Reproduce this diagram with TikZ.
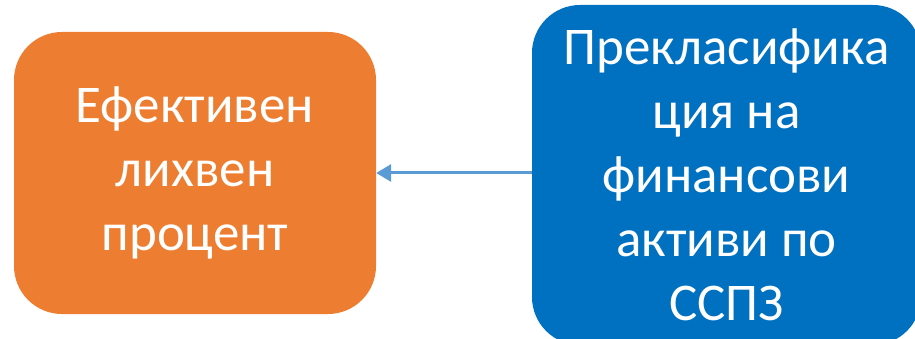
\documentclass[tikz,border=0pt]{standalone}
\usepackage{fontspec}
\setmainfont{Carlito}
\usetikzlibrary{arrows.meta}
\definecolor{borange}{HTML}{ED7D31}
\definecolor{bblue}{HTML}{0070C0}
\definecolor{aline}{HTML}{5B9BD5}
\tikzset{
  boxstyle/.style={rounded corners=48pt, text=white, align=center,
    font=\fontsize{53}{64}\selectfont, inner sep=0pt},
  conn/.style={draw=aline, line width=3pt, -{Triangle[length=15pt,width=17pt]}}
}
\begin{document}
\begin{tikzpicture}[x=1pt,y=-1pt]
\useasboundingbox (0,0) rectangle (915,339);
\clip (0,0) rectangle (915,339);
\node[boxstyle, fill=borange, minimum width=362pt, minimum height=282pt] (a) at (195,173)
  {Ефективен\\лихвен\\процент};
\node[boxstyle, fill=bblue, minimum width=389pt, minimum height=340pt] (b) at (726.5,175)
  {Прекласифика\\ция на\\финансови\\активи по\\ССПЗ};
\draw[conn] (b.west |- 0,173) -- (a.east |- 0,173);
\end{tikzpicture}
\end{document}
